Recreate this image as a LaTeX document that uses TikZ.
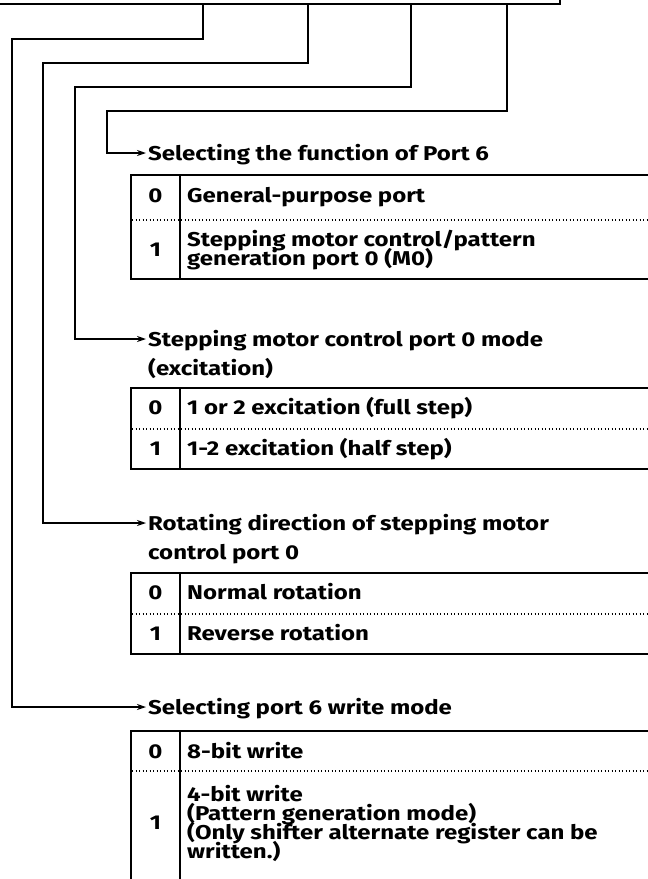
\documentclass[tikz,border=0pt]{standalone}
\usepackage{fontspec}
\setmainfont{Fira Sans}[FakeStretch=1.2]
\usetikzlibrary{arrows.meta}
\begin{document}
\begin{tikzpicture}[x=1pt,y=-1pt,
  conn/.style={line width=1.6pt, line join=miter},
  arr/.style={conn,-{Stealth[length=9pt,width=6pt]}},
  tbl/.style={line width=1.8pt},
  dots/.style={line width=1.3pt, dash pattern=on 1.3pt off 2.2pt},
  txt/.style={anchor=base west, inner sep=0pt, font=\fontsize{20}{20}\selectfont\bfseries},
  num/.style={anchor=base, inner sep=0pt, font=\fontsize{20}{20}\selectfont\bfseries}]
\useasboundingbox (0,0) rectangle (648,879);
\fill[white] (0,0) rectangle (648,879);
\clip (0,0) rectangle (648,879);

% bus line
\coordinate (busL) at (0,4);
\coordinate (busR) at (560,4);
\coordinate (busT) at (560,-2);
\draw[conn] (busL) -- (busR) -- (busT);
\coordinate (b1) at (507,4);
\coordinate (b2) at (411,4);
\coordinate (b3) at (308,4);
\coordinate (b4) at (203,4);
\coordinate (k1) at (107,111);
\coordinate (k2) at (75,87);
\coordinate (k3) at (43,63);
\coordinate (k4) at (12,39);
\coordinate (e1) at (146,153);
\coordinate (e2) at (146,339);
\coordinate (e3) at (146,523);
\coordinate (e4) at (146,707);

% headings
\node[txt] (h1) at (148,160) {Selecting the function of Port 6};
\node[txt] (h2a) at (148,346) {Stepping motor control port 0 mode};
\node[txt] (h2b) at (148,375) {(excitation)};
\node[txt] (h3a) at (148,530) {Rotating direction of stepping motor};
\node[txt] (h3b) at (148,559) {control port 0};
\node[txt] (h4) at (148,714) {Selecting port 6 write mode};

% connectors
\draw[arr] (b1) |- (k1) |- (e1);
\draw[arr] (b2) |- (k2) |- (e2);
\draw[arr] (b3) |- (k3) |- (e3);
\draw[arr] (b4) |- (k4) |- (e4);

% table 1
\draw[tbl] (131,175) rectangle (660,279);
\draw[tbl] (180,175) -- (180,279);
\draw[dots] (132,220) -- (648,220);
\node[num] (t1n0) at (155.5,202) {0};
\node[txt] (t1c0) at (187,202) {General-purpose port};
\node[num] (t1n1) at (155.5,256) {1};
\node[txt] (t1c1a) at (187,246) {Stepping motor control/pattern};
\node[txt] (t1c1b) at (187,265) {generation port 0 (M0)};

% table 2
\draw[tbl] (131,388) rectangle (660,469);
\draw[tbl] (180,388) -- (180,469);
\draw[dots] (132,429) -- (648,429);
\node[num] (t2n0) at (155.5,414) {0};
\node[txt] (t2c0) at (187,414) {1 or 2 excitation (full step)};
\node[num] (t2n1) at (155.5,455) {1};
\node[txt] (t2c1) at (187,455) {1-2 excitation (half step)};

% table 3
\draw[tbl] (131,573) rectangle (660,654);
\draw[tbl] (180,573) -- (180,654);
\draw[dots] (132,614) -- (648,614);
\node[num] (t3n0) at (155.5,599) {0};
\node[txt] (t3c0) at (187,599) {Normal rotation};
\node[num] (t3n1) at (155.5,640) {1};
\node[txt] (t3c1) at (187,640) {Reverse rotation};

% table 4
\draw[tbl] (131,900) -- (131,731) -- (660,731);
\draw[tbl] (180,731) -- (180,900);
\draw[dots] (132,771) -- (648,771);
\node[num] (t4n0) at (155.5,758) {0};
\node[txt] (t4c0) at (187,758) {8-bit write};
\node[num] (t4n1) at (155.5,829) {1};
\node[txt] (t4c1a) at (187,801) {4-bit write};
\node[txt] (t4c1b) at (187,820) {(Pattern generation mode)};
\node[txt] (t4c1c) at (187,839) {(Only shifter alternate register can be};
\node[txt] (t4c1d) at (187,858) {written.)};
\end{tikzpicture}
\end{document}
